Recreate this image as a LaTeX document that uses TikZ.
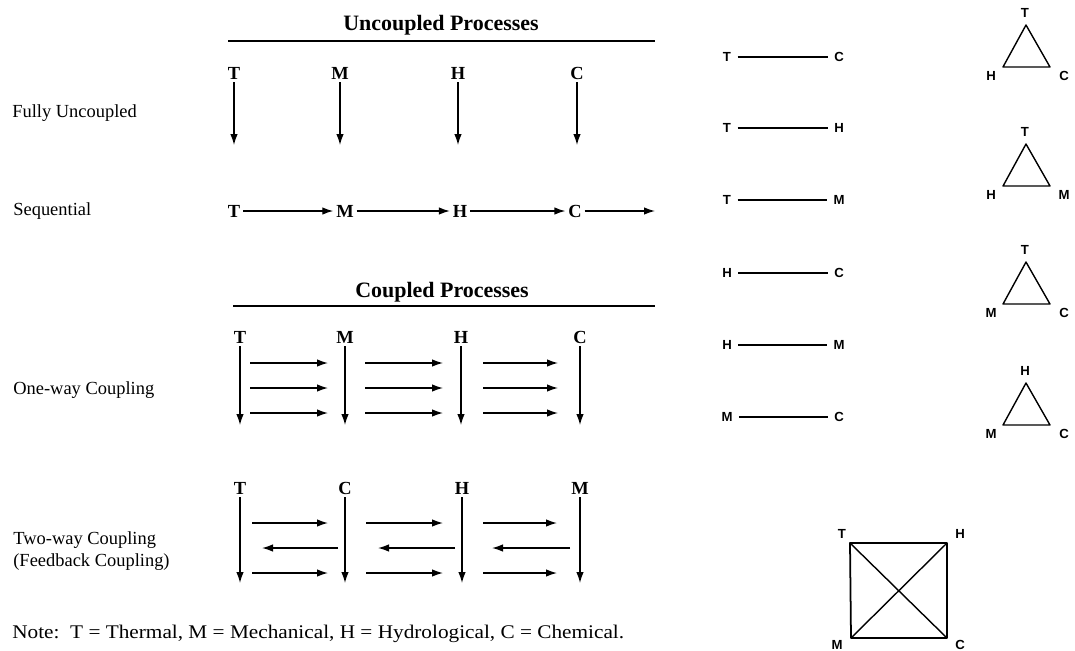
\documentclass[tikz,border=0pt]{standalone}
\usepackage{fontspec}
\setmainfont{Liberation Serif}
\setsansfont{Liberation Sans}
\usetikzlibrary{arrows.meta, positioning, calc}
\tikzset{
	rowlbl/.style ={anchor=west, inner sep=0pt, font=\fontsize{10.5}{13}\selectfont},
	grptitle/.style={inner sep=0pt, font=\bfseries\fontsize{12.5}{15}\selectfont},
	proc/.style   ={inner sep=1.5pt, font=\bfseries\fontsize{10.5}{13}\selectfont},
	flow/.style   ={-{Latex[length=2.2mm,width=1.5mm]}, line width=0.75pt},
	grprule/.style={line width=1pt},
	pairlbl/.style={inner sep=3.5pt, font=\sffamily\bfseries\fontsize{7.5}{9}\selectfont},
	vtxlbl/.style ={inner sep=0pt, font=\sffamily\bfseries\fontsize{7.5}{9}\selectfont},
	link/.style   ={line width=0.6pt},
	tri/.style    ={line width=0.8pt, line join=round},
}
\begin{document}
\begin{tikzpicture}[x=0.02cm, y=-0.02cm]
\useasboundingbox (0,0) rectangle (1075,650);
% row labels
\node[rowlbl] (fu) at (12,113) {Fully Uncoupled};
\node[rowlbl] (sq) at (13,211) {Sequential};
\node[rowlbl] (ow) at (13,390) {One-way Coupling};
\node[rowlbl, align=left] (tw) at (13,551) {Two-way Coupling\\(Feedback Coupling)};
\node[rowlbl, font=\fontsize{11}{13}\selectfont] (note) at (12,634)
	{\scalebox{1.1}[1]{Note:\enspace T = Thermal, M = Mechanical, H = Hydrological, C = Chemical.}};
% group titles
\node[grptitle] (unc) at (441,25) {Uncoupled Processes};
\coordinate (unc-l) at (228,41); \coordinate (unc-r) at (655,41);
\draw[grprule] (unc-l) -- (unc-r);
\node[grptitle] (cpl) at (442,292) {Coupled Processes};
\coordinate (cpl-l) at (233,306); \coordinate (cpl-r) at (655,306);
\draw[grprule] (cpl-l) -- (cpl-r);
% fully uncoupled
\foreach \k/\x in {T/234, M/340, H/458, C/577} {
	\node[proc] (fu-\k) at (\x,73) {\k};
	\coordinate (fu-\k-e) at (\x,145);
	\draw[flow] (fu-\k) -- (fu-\k-e);
}
% sequential
\node[proc] (sq-T) at (234,211) {T};
\node[proc] (sq-M) at (345,211) {M};
\node[proc] (sq-H) at (460,211) {H};
\node[proc] (sq-C) at (575,211) {C};
\coordinate (sq-e) at (655,211);
\draw[flow] (sq-T) -- (sq-M); \draw[flow] (sq-M) -- (sq-H);
\draw[flow] (sq-H) -- (sq-C); \draw[flow] (sq-C) -- (sq-e);
% one-way coupling
\foreach \k/\x in {T/240, M/345, H/461, C/580} {
	\node[proc] (ow-\k) at (\x,337) {\k};
	\coordinate (ow-\k-e) at (\x,425);
	\draw[flow] (ow-\k) -- (ow-\k-e);
}
\foreach \y in {363,388,413}
	\foreach \a/\b in {250/328, 365/443, 483/558} {
		\coordinate (ow-a) at (\a,\y); \coordinate (ow-b) at (\b,\y);
		\draw[flow] (ow-a) -- (ow-b);
	}
% two-way coupling
\foreach \k/\x in {T/240, C/345, H/462, M/580} {
	\node[proc] (tw-\k) at (\x,488) {\k};
	\coordinate (tw-\k-e) at (\x,583);
	\draw[flow] (tw-\k) -- (tw-\k-e);
}
\foreach \y in {523,573}
	\foreach \a/\b in {252/328, 366/443, 483/557} {
		\coordinate (tw-a) at (\a,\y); \coordinate (tw-b) at (\b,\y);
		\draw[flow] (tw-a) -- (tw-b);
	}
\foreach \a/\b in {338/262, 455/378, 570/492} {
	\coordinate (tw-a) at (\a,548); \coordinate (tw-b) at (\b,548);
	\draw[flow] (tw-a) -- (tw-b);
}
% pairs
\foreach \a/\b/\y [count=\i] in {T/C/57, T/H/128, T/M/200, H/C/273, H/M/345, M/C/417} {
	\node[pairlbl] (pa-\i) at (727,\y) {\a};
	\node[pairlbl] (pb-\i) at (839,\y) {\b};
	\draw[link] (pa-\i) -- (pb-\i);
}
% triples
\foreach \t/\l/\r/\y [count=\i] in {T/H/C/25, T/H/M/144, T/M/C/262, H/M/C/383} {
	\coordinate (tr-\i-t) at (1026,\y);
	\coordinate (tr-\i-l) at (1003,\y+42);
	\coordinate (tr-\i-r) at (1050,\y+42);
	\draw[tri] (tr-\i-t) -- (tr-\i-l) -- (tr-\i-r) -- cycle;
	\node[vtxlbl] (trl-\i-t) at (1025,\y-12) {\t};
	\node[vtxlbl] (trl-\i-l) at (991,\y+51) {\l};
	\node[vtxlbl] (trl-\i-r) at (1064,\y+51) {\r};
}
% all four
\coordinate (sqr-T) at (850,543); \coordinate (sqr-H) at (947,543);
\coordinate (sqr-M) at (851,638); \coordinate (sqr-C) at (947,638);
\draw[tri, line width=1pt] (sqr-T) -- (sqr-H) -- (sqr-C) -- (sqr-M) -- cycle;
\draw[tri] (sqr-T) -- (sqr-C); \draw[tri] (sqr-H) -- (sqr-M);
\node[vtxlbl] (sqrl-T) at (842,534) {T};
\node[vtxlbl] (sqrl-H) at (960,534) {H};
\node[vtxlbl] (sqrl-M) at (837,645) {M};
\node[vtxlbl] (sqrl-C) at (960,645) {C};
\end{tikzpicture}
\end{document}
